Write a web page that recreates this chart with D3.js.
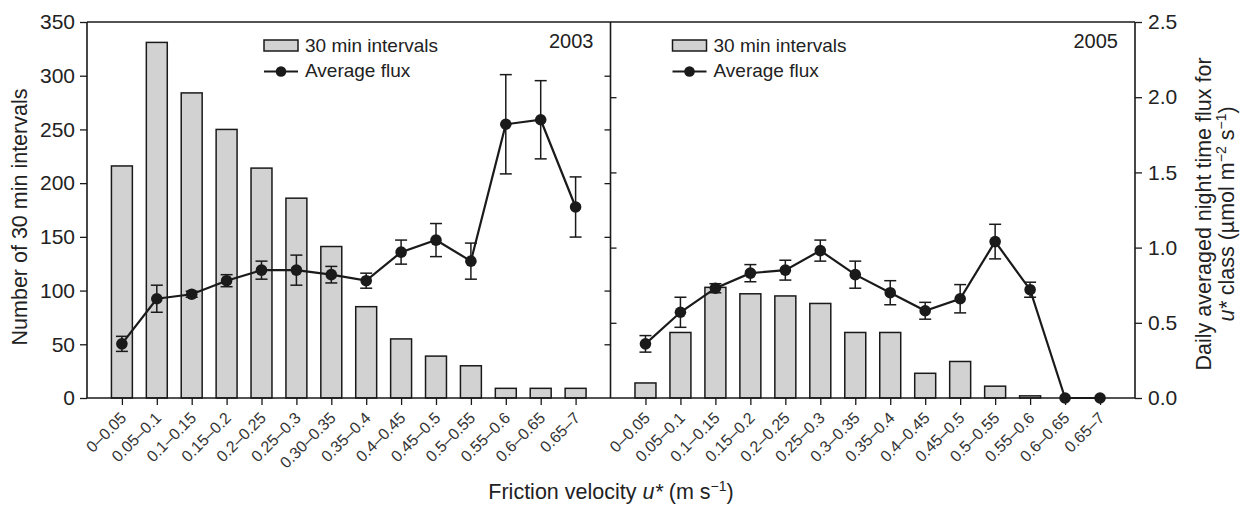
<!DOCTYPE html>
<html>
<head>
<meta charset="utf-8">
<script src="https://cdn.jsdelivr.net/npm/d3@7"></script>
<style>
  html, body { margin: 0; padding: 0; background: #fff; }
  svg { display: block; font-family: "Liberation Sans", Arial, Helvetica, sans-serif; }
</style>
</head>
<body>
<svg id="chart" width="1242" height="508"></svg>
<script>
// ---------- data ----------
const categories2003 = ["0–0.05","0.05–0.1","0.1–0.15","0.15–0.2","0.2–0.25","0.25–0.3","0.30–0.35","0.35–0.4","0.4–0.45","0.45–0.5","0.5–0.55","0.55–0.6","0.6–0.65","0.65–7"];
const categories2005 = ["0–0.05","0.05–0.1","0.1–0.15","0.15–0.2","0.2–0.25","0.25–0.3","0.3–0.35","0.35–0.4","0.4–0.45","0.45–0.5","0.5–0.55","0.55–0.6","0.6–0.65","0.65–7"];
const counts2003 = [216, 331, 284, 250, 214, 186, 141, 85, 55, 39, 30, 9, 9, 9];
const flux2003   = [0.36, 0.66, 0.69, 0.78, 0.85, 0.85, 0.82, 0.78, 0.97, 1.05, 0.91, 1.82, 1.85, 1.27];
const err2003    = [0.05, 0.09, 0.02, 0.04, 0.06, 0.10, 0.055, 0.05, 0.08, 0.11, 0.12, 0.33, 0.26, 0.20];
const counts2005 = [14, 61, 103, 97, 95, 88, 61, 61, 23, 34, 11, 2, 0, 0];
const flux2005   = [0.36, 0.57, 0.73, 0.83, 0.85, 0.98, 0.82, 0.70, 0.58, 0.66, 1.04, 0.72, 0, 0];
const err2005    = [0.055, 0.10, 0.03, 0.057, 0.066, 0.07, 0.09, 0.08, 0.056, 0.094, 0.115, 0.05, 0, 0];
const countTicks = [0, 50, 100, 150, 200, 250, 300, 350];
const fluxTicks  = [0, 0.5, 1.0, 1.5, 2.0, 2.5];

// ---------- layout ----------
const svg = d3.select("#chart");
const yTop = 22, yBottom = 398;
const xL0 = 87, xMid = 610.5, xR1 = 1135;
const font = "Liberation Sans, Arial, sans-serif";
const ink = "#1a1a1a";

const yCount = d3.scaleLinear().domain([0, 350]).range([yBottom, yTop]);
const yFlux  = d3.scaleLinear().domain([0, 2.5]).range([yBottom, yTop]);

const panels = [
  {x0: xL0, x1: xMid, cats: categories2003, counts: counts2003, flux: flux2003, err: err2003, year: "2003"},
  {x0: xMid, x1: xR1, cats: categories2005, counts: counts2005, flux: flux2005, err: err2005, year: "2005"}
];

panels.forEach((p, pi) => {
  const x = d3.scaleLinear().domain([0, 15]).range([p.x0, p.x1]);
  const step = x(1) - x(0);
  const bw = step * 0.6;
  const idx = d3.range(p.cats.length);
  const g = svg.append("g");

  // bars
  g.selectAll("rect.bar").data(idx.filter(i => p.counts[i] > 0)).join("rect")
    .attr("x", i => x(i + 1) - bw / 2)
    .attr("width", bw)
    .attr("y", i => yCount(p.counts[i]))
    .attr("height", i => yCount(0) - yCount(p.counts[i]))
    .attr("fill", "#d2d2d2")
    .attr("stroke", ink)
    .attr("stroke-width", 1.5);

  // bottom axis
  const ax = d3.axisBottom(x).tickValues(idx.map(i => i + 1))
    .tickFormat(d => p.cats[d - 1]).tickSize(7).tickSizeOuter(0);
  const axg = g.append("g").attr("transform", `translate(0,${yBottom})`).call(ax);
  axg.select(".domain").remove();
  axg.selectAll(".tick line").attr("stroke", ink).attr("stroke-width", 1.3);
  axg.selectAll(".tick text")
    .attr("font-family", font).attr("font-size", 16).attr("fill", "#333")
    .attr("text-anchor", "end")
    .attr("dy", null).attr("y", null)
    .attr("transform", "translate(5,21) rotate(-45)");

  // flux line
  const line = d3.line().x(i => x(i + 1)).y(i => yFlux(p.flux[i]));
  g.append("path").datum(idx).attr("d", line)
    .attr("fill", "none").attr("stroke", ink).attr("stroke-width", 2.2);

  // error bars
  const eb = g.selectAll("g.eb").data(idx.filter(i => p.err[i] > 0)).join("g");
  eb.append("line")
    .attr("x1", i => x(i + 1)).attr("x2", i => x(i + 1))
    .attr("y1", i => yFlux(p.flux[i] - p.err[i])).attr("y2", i => yFlux(p.flux[i] + p.err[i]))
    .attr("stroke", ink).attr("stroke-width", 1.5);
  [-1, 1].forEach(s => {
    eb.append("line")
      .attr("x1", i => x(i + 1) - 6).attr("x2", i => x(i + 1) + 6)
      .attr("y1", i => yFlux(p.flux[i] + s * p.err[i])).attr("y2", i => yFlux(p.flux[i] + s * p.err[i]))
      .attr("stroke", ink).attr("stroke-width", 1.5);
  });

  // points
  g.selectAll("circle.pt").data(idx).join("circle")
    .attr("cx", i => x(i + 1)).attr("cy", i => yFlux(p.flux[i]))
    .attr("r", 5.8).attr("fill", ink);

  // year label
  g.append("text").attr("x", p.x1 - 17).attr("y", 48)
    .attr("text-anchor", "end").attr("font-family", font).attr("font-size", 20).attr("fill", "#222")
    .text(p.year);

  // legend
  const lx = p.x0 + (pi === 0 ? 177 : 62);
  g.append("rect").attr("x", lx).attr("y", 40).attr("width", 34).attr("height", 11)
    .attr("fill", "#d2d2d2").attr("stroke", ink).attr("stroke-width", 1.5);
  g.append("line").attr("x1", lx).attr("x2", lx + 34).attr("y1", 71.5).attr("y2", 71.5)
    .attr("stroke", ink).attr("stroke-width", 2);
  g.append("circle").attr("cx", lx + 17).attr("cy", 71.5).attr("r", 5.3).attr("fill", ink);
  g.append("text").attr("x", lx + 41).attr("y", 52)
    .attr("font-family", font).attr("font-size", 19).attr("fill", "#222").text("30 min intervals");
  g.append("text").attr("x", lx + 41).attr("y", 77)
    .attr("font-family", font).attr("font-size", 19).attr("fill", "#222").text("Average flux");
});

// left axis (counts)
const la = svg.append("g").attr("transform", `translate(${xL0},0)`)
  .call(d3.axisLeft(yCount).tickValues(countTicks).tickSize(7).tickSizeOuter(0).tickPadding(5));
la.select(".domain").remove();
la.selectAll(".tick line").attr("stroke", ink).attr("stroke-width", 1.3);
la.selectAll(".tick text").attr("font-family", font).attr("font-size", 21).attr("fill", "#222");

// right axis (flux)
const ra = svg.append("g").attr("transform", `translate(${xR1},0)`)
  .call(d3.axisRight(yFlux).tickValues(fluxTicks).tickFormat(d3.format(".1f")).tickSize(7).tickSizeOuter(0).tickPadding(6));
ra.select(".domain").remove();
ra.selectAll(".tick line").attr("stroke", ink).attr("stroke-width", 1.3);
ra.selectAll(".tick text").attr("font-family", font).attr("font-size", 21).attr("fill", "#222");

// middle divider ticks
const ma = svg.append("g").attr("transform", `translate(${xMid},0)`)
  .call(d3.axisLeft(yCount).tickValues(countTicks.slice(1, -1)).tickFormat("").tickSize(6).tickSizeOuter(0));
ma.select(".domain").remove();
ma.selectAll(".tick line").attr("stroke", ink).attr("stroke-width", 1.3);
const mb = svg.append("g").attr("transform", `translate(${xMid},0)`)
  .call(d3.axisRight(yFlux).tickValues(fluxTicks.slice(1, -1)).tickFormat("").tickSize(6).tickSizeOuter(0));
mb.select(".domain").remove();
mb.selectAll(".tick line").attr("stroke", ink).attr("stroke-width", 1.3);

// frame
const frame = svg.append("g").attr("stroke", ink).attr("stroke-width", 1.6);
frame.append("line").attr("x1", xL0).attr("x2", xR1).attr("y1", yTop).attr("y2", yTop);
frame.append("line").attr("x1", xL0).attr("x2", xR1).attr("y1", yBottom).attr("y2", yBottom);
[xL0, xMid, xR1].forEach(xx => frame.append("line").attr("x1", xx).attr("x2", xx).attr("y1", yTop).attr("y2", yBottom));

// axis titles
svg.append("text").attr("transform", "translate(27,217) rotate(-90)")
  .attr("text-anchor", "middle").attr("font-family", font).attr("font-size", 21.5).attr("fill", "#222")
  .text("Number of 30 min intervals");

const rt = svg.append("g").attr("transform", "translate(1211,214) rotate(-90)");
rt.append("text").attr("x", 0).attr("y", 0)
  .attr("text-anchor", "middle").attr("font-family", font).attr("font-size", 21.5).attr("fill", "#222")
  .text("Daily averaged night time flux for");
const line2 = rt.append("text").attr("x", 0).attr("y", 23)
  .attr("text-anchor", "middle").attr("font-family", font).attr("font-size", 21.5).attr("fill", "#222");
line2.append("tspan").attr("font-style", "italic").text("u*");
line2.append("tspan").text(" class (µmol m");
line2.append("tspan").attr("font-size", 14).attr("dy", -8).text("−2");
line2.append("tspan").attr("dy", 8).text(" s");
line2.append("tspan").attr("font-size", 14).attr("dy", -8).text("−1");
line2.append("tspan").attr("dy", 8).text(")");

const xt = svg.append("text").attr("x", 611).attr("y", 499)
  .attr("text-anchor", "middle").attr("font-family", font).attr("font-size", 21.5).attr("fill", "#222");
xt.append("tspan").text("Friction velocity ");
xt.append("tspan").attr("font-style", "italic").text("u*");
xt.append("tspan").text(" (m s");
xt.append("tspan").attr("font-size", 14).attr("dy", -8).text("−1");
xt.append("tspan").attr("dy", 8).text(")");
</script>
</body>
</html>
